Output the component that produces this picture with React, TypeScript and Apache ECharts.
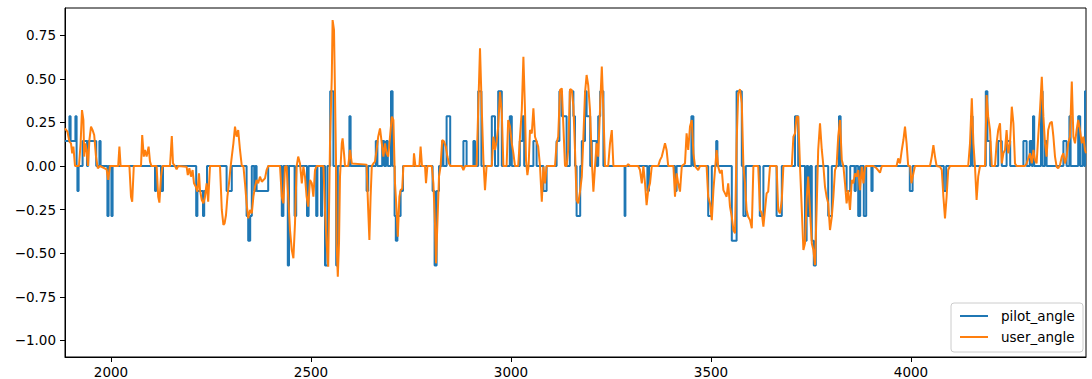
import React, { useEffect, useRef } from "react";
import * as echarts from "echarts";

const xTicks = [2000, 2500, 3000, 3500, 4000];
const yTicks = [-1.0, -0.75, -0.5, -0.25, 0.0, 0.25, 0.5, 0.75];
const seriesNames = ["pilot_angle", "user_angle"];
const seriesColors = ["#1f77b4", "#ff7f0e"];

// pilot_angle: change points [x, value] (value held until next point)
const pilotAngle: [number, number][] = [
  [1885, 0.143], [1896, 0.286], [1899, 0.143], [1911, 0.286], [1914, 0], [1916, -0.143], [1919, 0],
  [1929, 0.143], [1940, 0], [1943, 0.143], [1963, 0], [1971, 0.143], [1974, 0], [1991, -0.286], [1994, 0],
  [2001, -0.286], [2004, 0], [2110, -0.143], [2113, 0], [2125, -0.143], [2130, 0], [2213, -0.286],
  [2216, -0.143], [2230, -0.286], [2233, -0.143], [2240, 0], [2289, -0.143], [2302, 0], [2339, -0.286],
  [2343, -0.429], [2348, -0.286], [2352, 0], [2358, -0.143], [2361, 0], [2364, -0.143], [2393, 0],
  [2427, -0.286], [2431, 0], [2442, -0.571], [2445, 0], [2459, -0.286], [2463, 0], [2490, -0.286], [2494, 0],
  [2513, -0.286], [2516, 0], [2525, -0.286], [2528, 0], [2535, -0.571], [2541, 0], [2548, 0.429], [2556, 0],
  [2563, -0.571], [2567, 0], [2596, 0.286], [2599, 0], [2639, -0.143], [2643, 0], [2662, 0.143], [2666, 0],
  [2678, 0.143], [2683, 0], [2688, 0.143], [2692, 0], [2700, 0.429], [2704, 0], [2709, -0.286], [2712, -0.429],
  [2716, -0.286], [2724, -0.143], [2730, 0], [2804, -0.143], [2809, -0.571], [2814, -0.143], [2820, 0],
  [2828, 0.143], [2831, 0], [2839, 0.286], [2848, 0], [2881, 0.143], [2889, 0], [2906, 0.143], [2910, 0],
  [2918, 0.429], [2926, 0], [2952, 0.286], [2960, 0], [2968, 0.429], [2977, 0], [2997, 0.286], [3002, 0],
  [3022, 0.143], [3029, 0.286], [3033, 0], [3056, 0.143], [3064, 0], [3081, -0.143], [3089, 0], [3114, 0.143],
  [3121, 0.429], [3127, 0.286], [3139, 0], [3147, 0.429], [3156, 0.286], [3160, 0], [3164, -0.286], [3173, 0],
  [3177, 0.143], [3185, 0.429], [3189, 0.286], [3198, 0], [3202, 0.143], [3214, 0], [3218, 0.286],
  [3223, 0.429], [3231, 0], [3284, -0.286], [3286, 0], [3341, -0.143], [3345, 0], [3410, -0.143], [3414, 0],
  [3451, 0.286], [3456, 0], [3493, -0.286], [3502, 0], [3513, 0.143], [3516, 0], [3552, -0.429], [3564, 0.429],
  [3577, 0], [3581, -0.286], [3587, 0], [3622, -0.286], [3631, 0], [3664, -0.286], [3677, 0], [3710, 0.286],
  [3718, 0], [3735, -0.429], [3739, 0], [3743, -0.286], [3748, 0], [3752, -0.429], [3757, -0.571], [3762, 0],
  [3793, -0.286], [3802, 0], [3820, 0.286], [3824, 0], [3839, -0.143], [3848, 0], [3859, -0.143], [3862, 0],
  [3868, -0.286], [3873, 0], [3882, -0.286], [3888, 0], [3901, -0.143], [3904, 0], [3997, -0.143], [4004, 0],
  [4082, -0.143], [4088, 0], [4150, 0.286], [4154, 0], [4187, 0.429], [4191, 0.143], [4198, 0], [4218, 0.143],
  [4227, 0], [4239, 0.143], [4248, 0], [4281, 0.143], [4289, 0], [4297, 0.143], [4302, 0], [4305, 0.286],
  [4308, 0], [4325, 0.429], [4329, 0], [4335, 0.143], [4339, 0], [4381, 0.143], [4389, 0], [4396, 0.286],
  [4399, 0], [4418, 0.286], [4423, 0], [4429, 0.143], [4433, 0], [4435, 0.429], [4437.5, 0.429],
];

// user_angle: [x, value]
const userAngle: [number, number][] = [
  [1885, 0.216], [1891, 0.197], [1896, 0.14], [1900, 0.13], [1903, 0.073], [1906, 0.111], [1910, 0], [1920, 0],
  [1924, 0.13], [1927.5, 0.321], [1931, 0.264], [1933, 0.054], [1936, 0.13], [1939, 0.092], [1942.5, 0],
  [1946, 0.149], [1950, 0.226], [1954, 0.206], [1958, 0.178], [1962.5, 0.054], [1967, -0.013], [1972.5, 0],
  [1989, -0.019], [1993, -0.08], [1997.5, 0], [2018, 0], [2021, 0.111], [2024, 0], [2046, 0], [2050, -0.176],
  [2053, -0.205], [2057, 0], [2075, 0], [2078, 0.178], [2082, 0.054], [2085, 0.092], [2089, 0.054],
  [2094, 0.111], [2097.5, 0.025], [2101, 0], [2114, 0], [2118, -0.176], [2121, -0.21], [2125, -0.061],
  [2129, 0], [2147.5, 0], [2152, 0.172], [2155, 0.015], [2160, 0], [2164, -0.019], [2168, 0], [2189, -0.004],
  [2192, -0.052], [2196, -0.013], [2200, -0.061], [2204, -0.023], [2207.5, -0.099], [2212, -0.119],
  [2216, -0.147], [2220, -0.042], [2222.5, -0.138], [2227, -0.195], [2231, -0.214], [2235, -0.176],
  [2239, -0.099], [2243, -0.205], [2247.5, 0], [2272.5, 0], [2277, -0.252], [2281, -0.338], [2284, -0.329],
  [2287.5, -0.281], [2291, -0.176], [2295, -0.099], [2299, -0.004], [2302, 0.054], [2306, 0.13], [2310, 0.226],
  [2314, 0.168], [2318, 0.206], [2322.5, 0.092], [2327, 0], [2331, 0], [2335, -0.099], [2339, -0.214],
  [2343, -0.3], [2347.5, -0.252], [2352, -0.271], [2356, -0.176], [2360, -0.119], [2364, -0.08], [2368, -0.099],
  [2372.5, -0.061], [2377, -0.09], [2381, -0.08], [2385, -0.071], [2389, -0.023], [2393, 0], [2422.5, 0],
  [2427, -0.176], [2431, -0.214], [2435, -0.004], [2439, 0], [2443, -0.176], [2447.5, -0.367], [2452, -0.482],
  [2456, -0.529], [2460, -0.329], [2464, -0.004], [2468, 0.054], [2472.5, 0.015], [2477, -0.099],
  [2481, -0.004], [2485, -0.061], [2489, -0.176], [2493, -0.233], [2497.5, -0.08], [2502, -0.099],
  [2506, -0.176], [2510, -0.023], [2514, 0], [2531, 0], [2535, -0.252], [2539, -0.443], [2543, -0.577],
  [2547.5, 0.13], [2552, 0.512], [2554, 0.837], [2557.5, 0.78], [2560, 0.417], [2562.5, 0.034], [2564, -0.443],
  [2567, -0.635], [2570, -0.443], [2572.5, -0.061], [2577, 0.13], [2579, 0.159], [2582.5, 0.073], [2585, 0],
  [2593, 0], [2597.5, 0.092], [2602, 0.015], [2639, 0.008], [2643, -0.252], [2646, -0.424], [2649, -0.176],
  [2652, 0], [2656, 0.015], [2660, 0.025], [2664, 0.092], [2668, 0.168], [2672.5, 0.216], [2677, 0.13],
  [2681, 0.054], [2685, 0.13], [2689, 0.073], [2693, 0.054], [2697.5, 0.168], [2702, 0.283], [2706, 0.264],
  [2710, -0.099], [2714, -0.252], [2717, -0.405], [2721, -0.176], [2724, -0.138], [2728, -0.13], [2731, 0],
  [2756, 0], [2757.5, 0.073], [2761, 0], [2771, 0], [2774, 0.111], [2777.5, 0], [2785, 0], [2787.5, -0.099],
  [2791, 0], [2802, 0], [2806, -0.099], [2810, -0.329], [2812.5, -0.558], [2816, -0.329], [2820, -0.061],
  [2824, 0], [2828, 0.149], [2832.5, 0.14], [2837, 0.111], [2841, 0.054], [2845, 0.015], [2849, 0], [2877, 0],
  [2881, -0.023], [2885, 0], [2914, 0], [2918, 0.321], [2922.5, 0.675], [2927, 0.321], [2931, 0.034],
  [2935, -0.138], [2939, 0], [2952, 0], [2956, 0.168], [2960, 0.092], [2964, 0.14], [2968, 0.226],
  [2972.5, 0.426], [2977, 0.302], [2981, 0], [2989, 0], [2993, 0.264], [2997.5, 0.226], [3002, 0.13],
  [3006, 0.073], [3010, 0], [3018, 0], [3022.5, 0.168], [3027, 0.321], [3031, 0.627], [3035, 0.321],
  [3037.5, 0.034], [3041, -0.052], [3044, 0], [3047.5, 0.206], [3052, 0.187], [3056, 0.331], [3060, 0.168],
  [3064, 0.14], [3068, 0.111], [3072.5, 0], [3077, -0.205], [3081, -0.004], [3085, -0.099], [3089, 0],
  [3110, 0], [3114, 0.13], [3118, 0.168], [3122.5, 0.436], [3127, 0.445], [3131, 0.226], [3135, 0], [3139, 0],
  [3143, 0.092], [3147.5, 0.44], [3152, 0.436], [3156, 0.34], [3160, 0.092], [3164, -0.195], [3168, -0.214],
  [3172.5, -0.147], [3177, -0.061], [3181, 0.168], [3185, 0.417], [3189, 0.522], [3193, 0.464],
  [3197.5, 0.321], [3202, 0.034], [3206, -0.147], [3210, -0.004], [3214, 0.13], [3218, 0.054],
  [3222.5, 0.321], [3227, 0.57], [3231, 0.321], [3235, 0], [3243, 0], [3247.5, 0.13], [3252, 0.206],
  [3256, 0], [3289, 0], [3293, 0.011], [3297.5, 0], [3318, 0], [3322.5, -0.023], [3327, -0.099], [3331, 0],
  [3335, -0.099], [3339, -0.224], [3343, -0.138], [3347.5, -0.099], [3352, 0], [3368, 0], [3372.5, 0.034],
  [3377, 0.054], [3381, 0.092], [3385, 0.13], [3389, 0.092], [3393, 0], [3406, 0], [3410, -0.176],
  [3414, -0.042], [3418, -0.099], [3422.5, -0.147], [3427, 0], [3435, 0.015], [3439, 0.187], [3443, 0.092],
  [3447.5, 0.226], [3452, 0.264], [3456, 0.073], [3460, 0], [3468, -0.023], [3472.5, 0], [3489, 0],
  [3493, -0.176], [3497.5, -0.214], [3502, -0.31], [3506, -0.138], [3510, -0.023], [3514, 0.092],
  [3518, -0.004], [3522.5, -0.042], [3527, -0.023], [3531, -0.138], [3535, -0.157], [3539, -0.176],
  [3543, -0.099], [3547.5, -0.233], [3552, -0.291], [3556, -0.367], [3560, -0.386], [3564, 0.13],
  [3568, 0.417], [3572.5, 0.44], [3577, 0.359], [3581, 0], [3585, -0.099], [3589, -0.252], [3593, -0.291],
  [3597.5, -0.31], [3602, -0.357], [3606, 0], [3618, 0], [3622.5, -0.252], [3627, -0.271], [3631, -0.348],
  [3635, -0.252], [3639, -0.157], [3643, -0.147], [3647.5, 0], [3664, 0], [3668, -0.252], [3672.5, -0.271],
  [3677, -0.195], [3681, 0], [3702, 0], [3706, 0.168], [3710, 0.187], [3714, 0.283], [3718, 0.283],
  [3722.5, 0], [3727, -0.252], [3731, -0.482], [3735, -0.443], [3739, -0.195], [3743, -0.061],
  [3747.5, -0.252], [3752, -0.443], [3756, -0.482], [3760, -0.568], [3764, -0.252], [3768, 0.092],
  [3772.5, 0.245], [3777, 0.092], [3781, 0], [3785, -0.119], [3789, -0.176], [3793, -0.214], [3797.5, -0.367],
  [3802, -0.291], [3806, -0.176], [3810, -0.023], [3814, 0], [3818, 0.168], [3822.5, 0.264], [3827, 0.034],
  [3831, 0], [3835, -0.099], [3839, -0.214], [3843, -0.138], [3847.5, -0.252], [3852, -0.08], [3856, -0.099],
  [3860, -0.042], [3864, -0.061], [3868, -0.023], [3872.5, -0.138], [3877, -0.004], [3881, -0.099],
  [3885, -0.004], [3889, 0], [3906, 0], [3914, -0.013], [3922.5, -0.038], [3927, 0], [3964, 0], [3968, 0.044],
  [3972.5, 0.015], [3977, 0.092], [3981, 0.149], [3985, 0.226], [3989, 0.13], [3993, 0], [3998, 0],
  [4001, -0.099], [4006, -0.042], [4010, 0], [4047.5, 0], [4052, 0.054], [4056, 0.12], [4060, 0.054],
  [4064, 0], [4072.5, -0.004], [4077, -0.023], [4081, -0.176], [4085, -0.3], [4089, -0.176], [4093, -0.023],
  [4097.5, 0], [4143, 0], [4147.5, 0.13], [4152, 0.388], [4156, 0.13], [4160, -0.004], [4164, -0.195],
  [4168, -0.061], [4172.5, 0], [4185, 0], [4189, 0.407], [4193, 0.283], [4197.5, 0.206], [4202, 0], [4210, 0],
  [4214, 0.13], [4218, 0.206], [4222.5, 0.245], [4227, 0.015], [4231, 0.073], [4235, 0.092], [4239, 0.206],
  [4243, 0.073], [4247.5, 0.13], [4252, 0.34], [4256, 0.245], [4260, 0.015], [4264, 0], [4285, 0],
  [4289, 0.015], [4297.5, 0.073], [4302, 0.015], [4306, 0.092], [4310, 0.034], [4314, 0.015], [4318, 0.168],
  [4322.5, 0.321], [4327, 0.512], [4331, 0.283], [4335, 0.13], [4339, 0.054], [4343, 0.206], [4347.5, 0.245],
  [4352, 0.254], [4356, 0.168], [4360, 0.054], [4364, -0.004], [4368, -0.013], [4372.5, 0.006], [4377, 0.054],
  [4381, 0.073], [4385, 0.015], [4389, 0.054], [4393, 0.13], [4397.5, 0.168], [4402, 0.484], [4406, 0.168],
  [4410, 0.13], [4414, 0.206], [4418, 0.264], [4422.5, 0.206], [4427, 0.13], [4431, 0.168], [4435, 0.092],
  [4437.5, 0.073],
];

const X_MIN = 1885;
const X_MAX = 4437.5;
const Y_MIN = -1.095;
const Y_MAX = 0.906;

const FONT = "DejaVu Sans";

export default function App() {
  const ref = useRef<HTMLDivElement>(null);
  useEffect(() => {
    document.body.style.margin = "0";
    const chart = echarts.init(ref.current!, null, { renderer: "svg" });
    const fmtY = (v: number) => v.toFixed(2).replace("-", "\u2212");
    const legendX = 951;
    const legendY = 303;
    chart.setOption({
      animation: false,
      backgroundColor: "#fff",
      grid: {
        left: 65,
        right: 6,
        top: 8,
        bottom: 22,
        show: true,
        borderColor: "#000",
        borderWidth: 1,
        backgroundColor: "transparent",
      },
      xAxis: {
        type: "value",
        min: X_MIN,
        max: X_MAX,
        position: "bottom",
        splitLine: { show: false },
        axisLine: { show: true, onZero: false, lineStyle: { color: "#000", width: 1 } },
        axisTick: { show: true, customValues: xTicks, length: 5, lineStyle: { color: "#000", width: 1 } },
        axisLabel: {
          customValues: xTicks,
          margin: 8,
          color: "#000",
          fontFamily: FONT,
          fontSize: 13.5,
          formatter: (v: number) => String(v),
        },
      },
      yAxis: {
        type: "value",
        min: Y_MIN,
        max: Y_MAX,
        position: "left",
        splitLine: { show: false },
        axisLine: { show: true, onZero: false, lineStyle: { color: "#000", width: 1 } },
        axisTick: { show: true, customValues: yTicks, length: 5, lineStyle: { color: "#000", width: 1 } },
        axisLabel: {
          customValues: yTicks,
          margin: 9,
          color: "#000",
          fontFamily: FONT,
          fontSize: 13.5,
          formatter: (v: number) => fmtY(v),
        },
      },
      series: [
        {
          name: seriesNames[0],
          type: "line",
          step: "end",
          data: pilotAngle,
          showSymbol: false,
          symbol: "none",
          lineStyle: { color: seriesColors[0], width: 2 },
          z: 2,
        },
        {
          name: seriesNames[1],
          type: "line",
          data: userAngle,
          showSymbol: false,
          symbol: "none",
          lineStyle: { color: seriesColors[1], width: 2 },
          z: 3,
        },
      ],
      graphic: [
        {
          type: "rect",
          z: 100,
          shape: { x: legendX, y: legendY, width: 132, height: 49, r: 3 },
          style: { fill: "rgba(255,255,255,0.8)", stroke: "#cccccc", lineWidth: 1 },
        },
        ...seriesNames.flatMap((name, i) => [
          {
            type: "line",
            z: 101,
            shape: { x1: legendX + 9, y1: legendY + 13 + i * 21, x2: legendX + 37, y2: legendY + 13 + i * 21 },
            style: { stroke: seriesColors[i], lineWidth: 2 },
          },
          {
            type: "text",
            z: 101,
            x: legendX + 50,
            y: legendY + 13 + i * 21,
            style: {
              text: name,
              fill: "#000",
              font: `13.5px "${FONT}"`,
              verticalAlign: "middle",
              align: "left",
            },
          },
        ]),
      ],
    });
    return () => chart.dispose();
  }, []);
  return <div ref={ref} style={{ width: 1092, height: 379 }} />;
}
